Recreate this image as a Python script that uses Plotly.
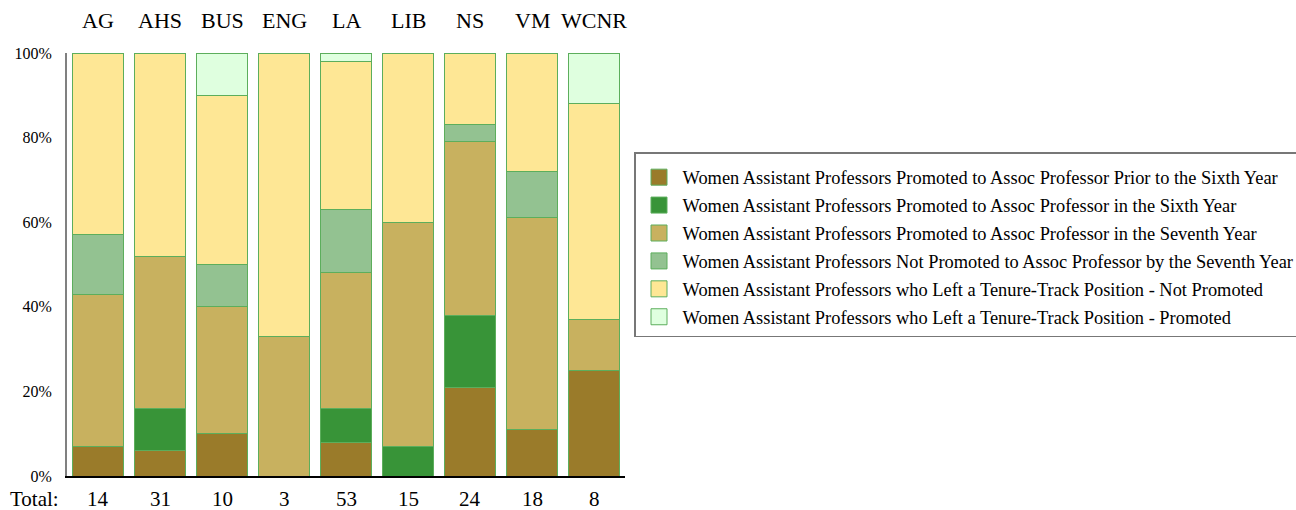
import plotly.graph_objects as go

categories = ["AG", "AHS", "BUS", "ENG", "LA", "LIB", "NS", "VM", "WCNR"]
totals = [14, 31, 10, 3, 53, 15, 24, 18, 8]
y_tick_vals = [0, 20, 40, 60, 80, 100]
y_tick_text = ["0%", "20%", "40%", "60%", "80%", "100%"]

series_names = [
    "Women Assistant Professors Promoted to Assoc Professor Prior to the Sixth Year",
    "Women Assistant Professors Promoted to Assoc Professor in the Sixth Year",
    "Women Assistant Professors Promoted to Assoc Professor in the Seventh Year",
    "Women Assistant Professors Not Promoted to Assoc Professor by the Seventh Year",
    "Women Assistant Professors who Left a Tenure-Track Position - Not Promoted",
    "Women Assistant Professors who Left a Tenure-Track Position - Promoted",
]

prior_sixth = [7, 6, 10, 0, 8, 0, 21, 11, 25]
in_sixth = [0, 10, 0, 0, 8, 7, 17, 0, 0]
in_seventh = [36, 36, 30, 33, 32, 53, 41, 50, 12]
not_promoted = [14, 0, 10, 0, 15, 0, 4, 11, 0]
left_not_promoted = [43, 48, 40, 67, 35, 40, 17, 28, 51]
left_promoted = [0, 0, 10, 0, 2, 0, 0, 0, 12]

series_values = [prior_sixth, in_sixth, in_seventh, not_promoted, left_not_promoted, left_promoted]
colors = ["#9a7b2a", "#389438", "#c8b15f", "#93c291", "#fee795", "#dfffdf"]

FONT = "Liberation Serif"
EDGE = "#5cae5c"

fig = go.Figure()
for name, vals, col in zip(series_names, series_values, colors):
    fig.add_trace(go.Bar(
        x=categories, y=vals, name=name, showlegend=False,
        marker=dict(color=col, line=dict(color=EDGE, width=1)),
    ))
# legend entries with larger square swatches
for i, (name, col) in enumerate(zip(series_names, colors)):
    fig.add_trace(go.Scatter(
        x=[None], y=[None], mode="markers", name=name, legendgroup=f"g{i}",
        marker=dict(symbol="square", size=16, color=col, line=dict(color=EDGE, width=1)),
    ))

annotations = []
for c in categories:
    annotations.append(dict(x=c, y=1, xref="x", yref="paper", text=c, showarrow=False,
                            yanchor="bottom", yshift=18, font=dict(family=FONT, size=22, color="#000")))
for c, t in zip(categories, totals):
    annotations.append(dict(x=c, y=0, xref="x", yref="paper", text=str(t), showarrow=False,
                            yanchor="top", yshift=-9, font=dict(family=FONT, size=21, color="#000")))
annotations.append(dict(x=0, y=0, xref="paper", yref="paper", text="Total:", showarrow=False,
                        xanchor="right", yanchor="top", yshift=-9, xshift=-6,
                        font=dict(family=FONT, size=21, color="#000")))

fig.update_layout(
    width=1296, height=510,
    barmode="stack", bargap=0.19,
    paper_bgcolor="white", plot_bgcolor="white",
    margin=dict(l=67, r=671, t=53, b=34, autoexpand=False),
    font=dict(family=FONT, color="#000"),
    xaxis=dict(range=[-0.5, 8.5], showticklabels=False, showline=True, linecolor="#000",
               linewidth=1.5, ticks="", showgrid=False, zeroline=False),
    yaxis=dict(range=[0, 100], tickmode="array", tickvals=y_tick_vals, ticktext=y_tick_text,
               showline=True, linecolor="#808080", linewidth=2, ticks="", showgrid=False,
               zeroline=False, ticklabelstandoff=10,
               tickfont=dict(family=FONT, size=16, color="#000")),
    legend=dict(xref="container", yref="container", x=634 / 1296, y=1 - 152 / 510,
                xanchor="left", yanchor="top", traceorder="grouped",
                tracegroupgap=1, itemwidth=37,
                title=dict(text=" ", font=dict(size=4)),
                bordercolor="#777", borderwidth=1.5,
                font=dict(family=FONT, size=18.4, color="#000")),
    annotations=annotations,
    showlegend=True,
)

fig.write_html("out.html", config={"displayModeBar": False},
               post_script="document.body.style.margin='0px';")
